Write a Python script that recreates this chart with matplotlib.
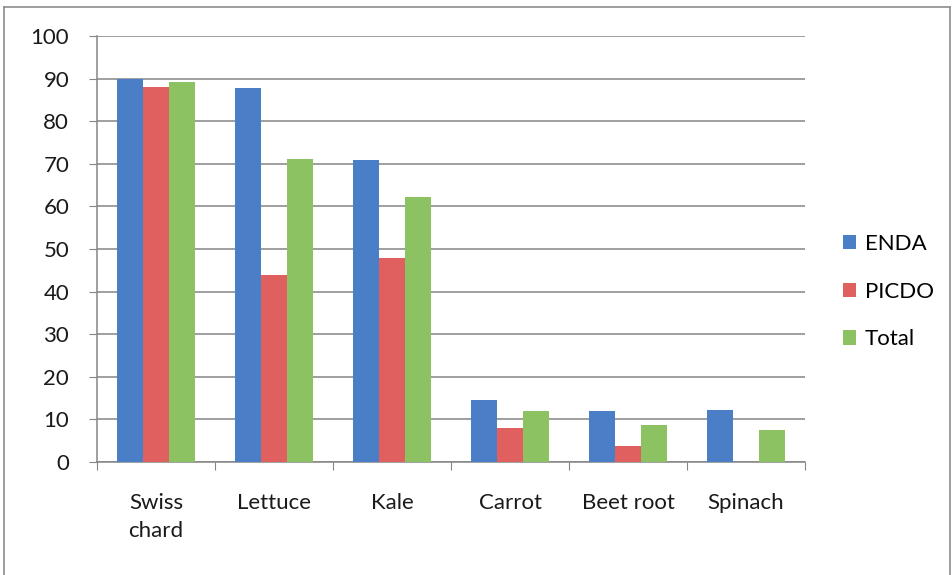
import matplotlib
matplotlib.use('Agg')
import matplotlib.pyplot as plt
import numpy as np

# データ
categories = ['Swiss\nchard', 'Lettuce', 'Kale', 'Carrot', 'Beet root', 'Spinach']
enda = [90, 87.8, 70.8, 14.6, 12.0, 12.2]
picdo = [88, 44, 48, 8, 3.8, 0]
total = [89.3, 71.1, 62.2, 12.0, 8.8, 7.5]
series_names = ['ENDA', 'PICDO', 'Total']
colors = ['#4a7fc8', '#e0605f', '#8dc262']

plt.rcParams['font.family'] = ['Lato', 'DejaVu Sans']

fig = plt.figure(figsize=(9.52, 5.75), dpi=100)
ax = fig.add_axes([97 / 952, 1 - 462 / 575, 708 / 952, 426 / 575])

x = np.arange(len(categories))
width = 1 / 4.5
for i, (vals, name, c) in enumerate(zip([enda, picdo, total], series_names, colors)):
    ax.bar(x + (i - 1) * width, vals, width, color=c, label=name, zorder=3)

ax.set_xlim(-0.5, len(categories) - 0.5)
ax.set_ylim(0, 100)
ax.set_yticks(range(0, 101, 10))
ax.yaxis.grid(True, color='#858585', linewidth=1.1, zorder=0)

# x軸の目盛りはカテゴリの境界に
ax.set_xticks(np.arange(-0.5, len(categories), 1))
ax.set_xticklabels([])
ax.set_xticks(x, minor=True)
ax.set_xticklabels(categories, minor=True, fontsize=16, color='#1a1a1a', linespacing=1.55)
ax.tick_params(axis='x', which='minor', length=0, pad=22)
ax.tick_params(axis='x', which='major', length=6, color='#858585', direction='out')
ax.tick_params(axis='y', length=6, color='#858585', labelsize=16, labelcolor='#1a1a1a', pad=14)

for s in ['top', 'right']:
    ax.spines[s].set_visible(False)
for s in ['left', 'bottom']:
    ax.spines[s].set_color('#858585')
    ax.spines[s].set_linewidth(1.1)

ax.legend(loc='center left', bbox_to_anchor=(1.025, 0.4), frameon=False, fontsize=16,
          handlelength=0.6, handleheight=0.6, handletextpad=0.4, labelspacing=1.25)

# 外枠
fig.add_artist(plt.Line2D([0.004, 0.004], [0, 0.988], color='#8c8c8c', lw=1.2))
fig.add_artist(plt.Line2D([0.004, 0.998], [0.988, 0.988], color='#8c8c8c', lw=1.2))
fig.add_artist(plt.Line2D([0.998, 0.998], [0, 0.988], color='#8c8c8c', lw=1.2))

plt.savefig('out.png', dpi=100)
plt.close()
